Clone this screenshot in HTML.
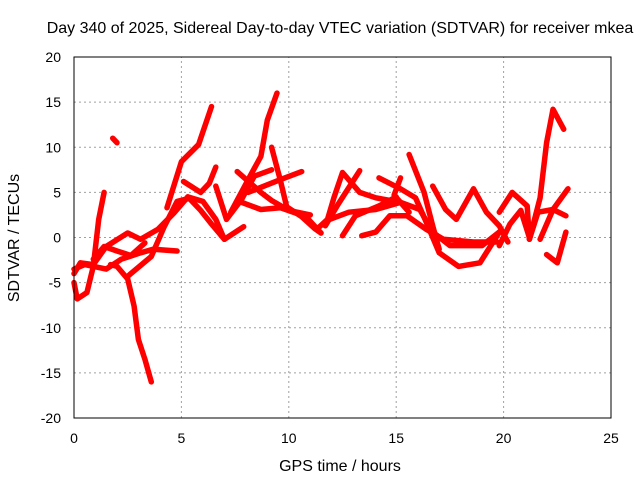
<!DOCTYPE html>
<html><head><meta charset="utf-8"><style>
body{margin:0;background:#fff}
svg{display:block;font-family:"Liberation Sans",sans-serif}
</style></head><body>
<svg id="chart" width="640" height="480" viewBox="0 0 640 480" xmlns="http://www.w3.org/2000/svg">
<rect width="640" height="480" fill="#fff"/>
<text x="340" y="33" text-anchor="middle" font-size="16">Day 340 of 2025, Sidereal Day-to-day VTEC variation (SDTVAR) for receiver mkea</text>
<g id="grid"></g>
<g id="series"></g>
<rect x="74" y="57" width="537" height="361" fill="none" stroke="#000" stroke-width="1"/>
<g id="ticks"></g>
<text x="340" y="471" text-anchor="middle" font-size="16">GPS time / hours</text>
<text transform="translate(19,238) rotate(-90)" text-anchor="middle" font-size="16">SDTVAR / TECUs</text>
</svg>
<script>
const xTicks=[0,5,10,15,20,25];
const yTicks=[-20,-15,-10,-5,0,5,10,15,20];
const track1=[[0,-5],[0.15,-6.8],[0.6,-6.1],[0.9,-3.2],[1.15,2],[1.4,5]];
const track2=[[1.8,11],[2.0,10.5]];
const track3=[[1.7,-3],[2.0,-3.2],[2.5,-4.6],[2.8,-7.6],[3.0,-11.3],[3.3,-13.5],[3.6,-16]];
const track4=[[0,-4],[0.3,-2.8],[0.9,-3],[1.5,-1],[2.5,0.5],[3.1,-0.2],[3.9,0.9],[4.65,2.7],[5.3,4.5],[6,4],[6.6,2],[7.0,-0.2],[7.9,1.2]];
const track5=[[0,-3.5],[0.5,-3],[1.5,-3.5],[2.2,-2.4],[3.1,-1.7],[3.7,-1.3],[4.8,-1.5]];
const track6=[[0.9,-2.4],[1.4,-1],[2,-1.5],[2.65,-2],[3.3,-0.6]];
const track7=[[2.5,-4.3],[3.6,-2.1],[4.2,1.2],[4.8,4],[5.3,4.3]];
const track8=[[4.33,3.3],[5.0,8.4],[5.8,10.3],[6.4,14.5]];
const track9=[[7.3,2.8],[8.2,6.8],[8.7,9],[9.0,13],[9.45,16]];
const track10=[[9.2,10],[9.6,6.4],[9.9,3.4],[10.6,2.3],[11.2,1],[11.5,0.5]];
const track11=[[5.1,6.2],[5.9,5],[6.3,6],[6.6,7.8]];
const track12=[[5.3,4.5],[5.9,3],[6.4,1.5],[7.0,-0.2]];
const track13=[[6.6,5.7],[7.1,2],[7.8,4.2],[8.4,6.8],[9.2,7.5]];
const track14=[[7.6,7.3],[8.7,5],[9.2,4.1],[10,3],[11,2.5]];
const track15=[[7.8,3.9],[8.7,3.1],[9.6,3.3],[10.8,2.3],[11.5,0.5]];
const track16=[[8.1,5],[9.6,6.4],[10.6,7.3]];
const track17=[[11.3,0.9],[11.8,2],[12.1,4.4],[12.5,7.2],[13.3,5],[14.05,4.4],[15.2,3.9]];
const track18=[[13.3,7.4],[12.3,3.7],[11.7,1.3]];
const track19=[[11.9,2],[12.8,2.8],[14.05,3.1],[15.2,3.9],[16.1,3.1],[16.7,0.6],[17.5,-0.9],[19.0,-0.9],[19.8,0.6]];
const track20=[[12.5,0.2],[13.1,2.4],[14.2,3.5],[15.0,4.5]];
const track21=[[13.4,0.2],[14.05,0.6],[14.7,2.4],[15.5,2.4],[16.4,0.9],[17.2,-0.2],[18.6,-0.5],[19.7,-0.5]];
const track22=[[14.2,6.6],[15.2,5.4],[15.9,4.4],[16.4,1.7],[17.0,-1.7],[17.9,-3.2],[18.9,-2.8],[19.8,0.6]];
const track23=[[15.2,6.6],[14.9,4.7],[15.6,2.8]];
const track24=[[15.6,9.2],[16.3,5],[16.7,1.3],[17.0,-1.3]];
const track25=[[16.7,5.7],[17.3,3.1],[17.8,2],[18.6,5.4],[19.2,2.8],[19.8,1.3],[20.2,-0.5]];
const track26=[[19.8,2.8],[20.4,5],[21.1,3.5],[21.2,-0.2],[21.6,2.8],[22.3,3.1],[22.9,2.4]];
const track27=[[19.8,-0.9],[20.3,1.5],[20.8,3],[21.2,0]];
const track28=[[21.2,-0.2],[21.7,4.4],[22.0,10.5],[22.3,14.2],[22.8,12]];
const track29=[[22.0,-1.9],[22.5,-2.8],[22.9,0.6]];
const track30=[[21.7,-0.2],[22.3,3.1],[23,5.4]];
const tracks=[track1,track2,track3,track4,track5,track6,track7,track8,track9,track10,track11,track12,track13,track14,track15,track16,track17,track18,track19,track20,track21,track22,track23,track24,track25,track26,track27,track28,track29,track30];

const X0=74,X1=611,Y0=418,Y1=57;
function xs(h){return X0+(h-0)/25*(X1-X0);}
function ys(v){return Y0-(v+20)/40*(Y0-Y1);}
const NS='http://www.w3.org/2000/svg';
const grid=document.getElementById('grid'),ticks=document.getElementById('ticks'),ser=document.getElementById('series');
function mk(tag,attrs,parent){const e=document.createElementNS(NS,tag);for(const k in attrs)e.setAttribute(k,attrs[k]);parent.appendChild(e);return e;}
xTicks.forEach(t=>{
  const x=xs(t);
  if(t>0&&t<25){const g=mk('line',{x1:x,x2:x,y1:Y0,y2:Y1,stroke:'#a0a0a0','stroke-dasharray':'2,3'},grid);
  
  }
  const l=mk('text',{x:x,y:443,'text-anchor':'middle','font-size':'14'},ticks);
  
  
  l.textContent=t;
});
yTicks.forEach(t=>{
  const y=ys(t);
  if(t>-20&&t<20){const g=mk('line',{x1:X0,x2:X1,y1:y,y2:y,stroke:'#a0a0a0','stroke-dasharray':'2,3'},grid);
  
  }
  const l=mk('text',{x:61,y:y+5,'text-anchor':'end','font-size':'14'},ticks);
  
  
  l.textContent=t;
});
tracks.forEach(tr=>{
  const p=mk('polyline',{points:tr.map(d=>xs(d[0]).toFixed(1)+','+ys(d[1]).toFixed(1)).join(' '),fill:'none',stroke:'#ff0000','stroke-width':5.5,'stroke-linejoin':'round','stroke-linecap':'round'},ser);
  
  
});
</script>
</body></html>
